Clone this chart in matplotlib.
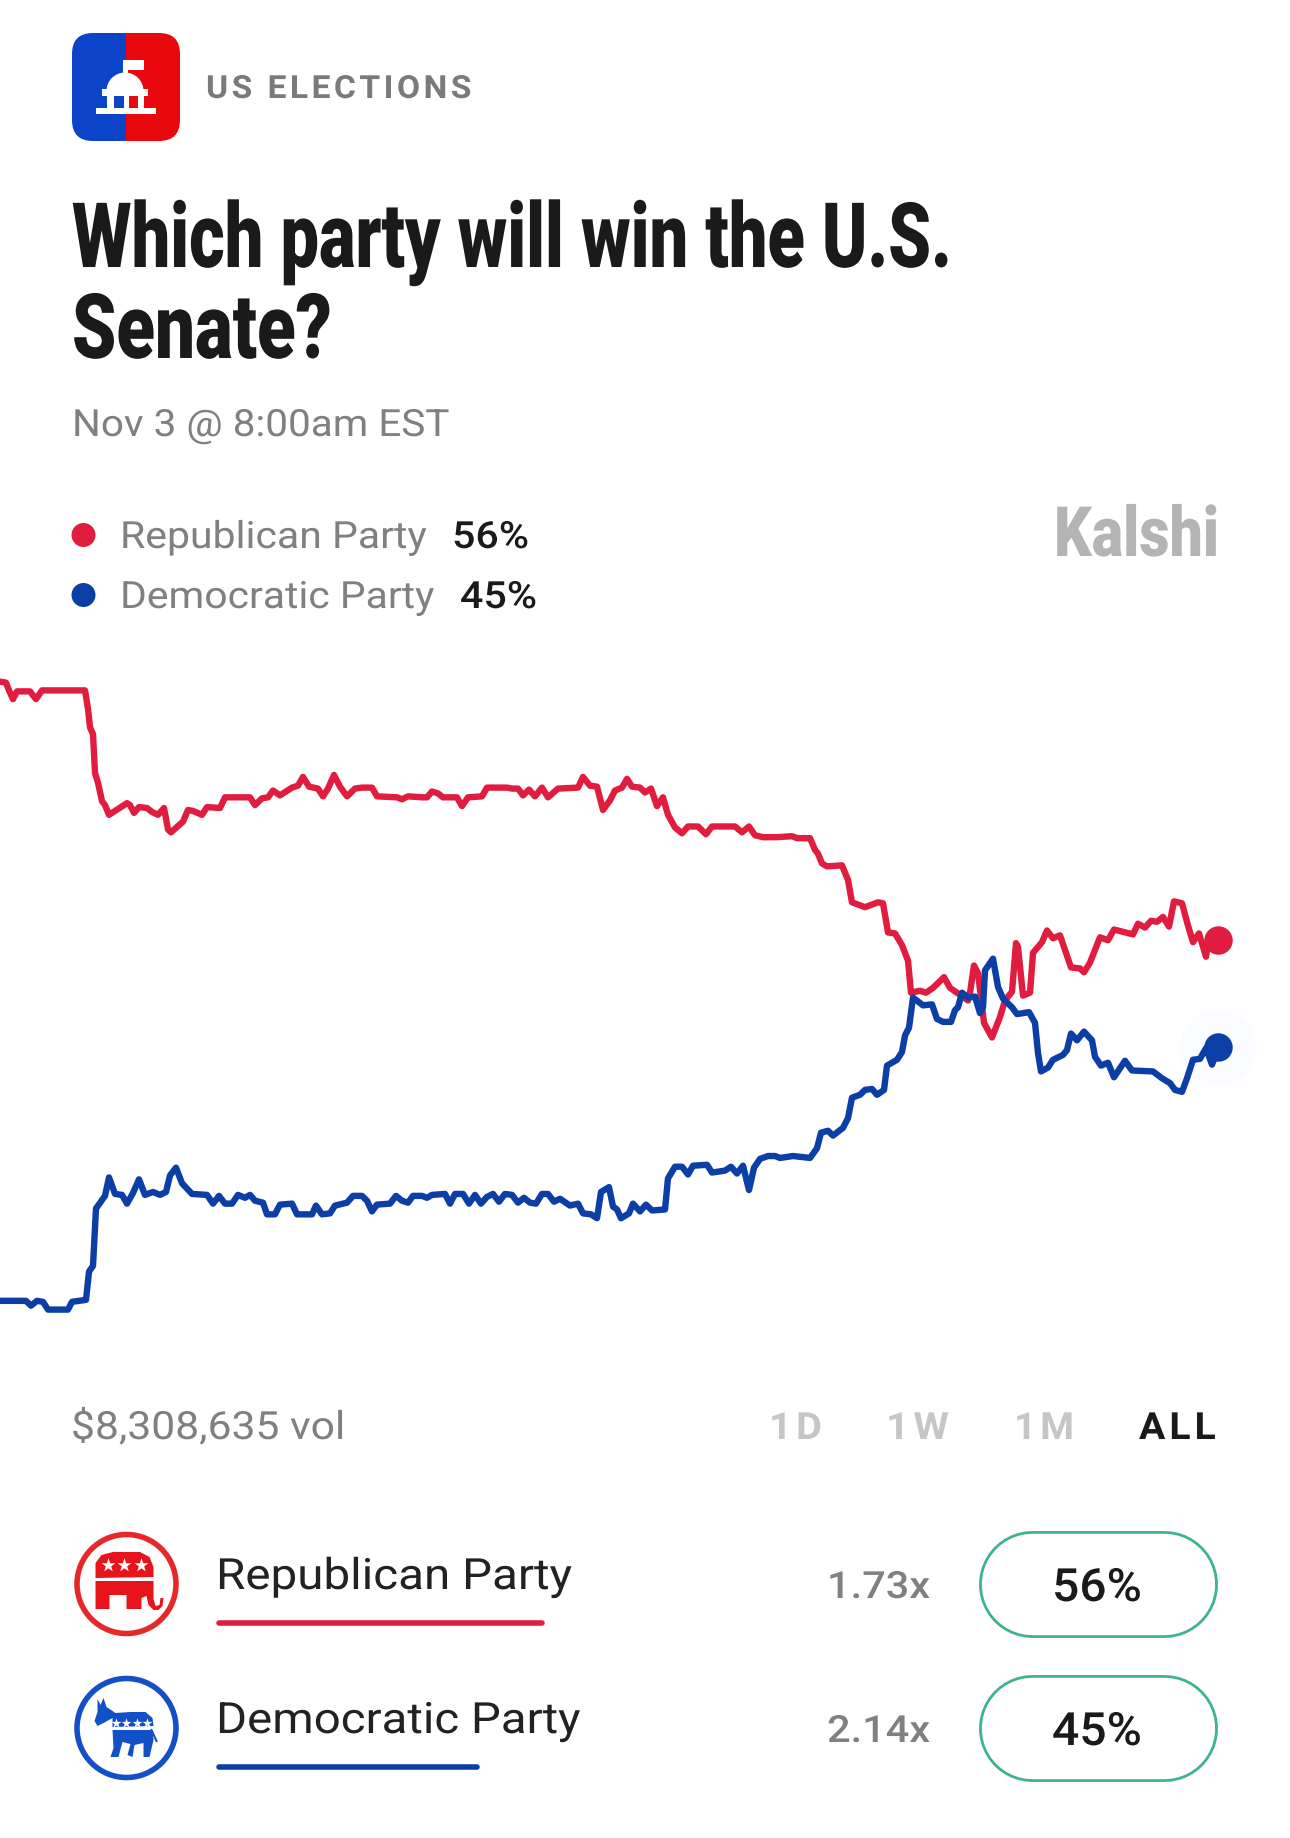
''' Senate control odds card: two price lines with header, legend and buy rows '''
import matplotlib.pyplot as plt
from matplotlib.patches import Circle, FancyBboxPatch, Polygon, Rectangle, Wedge
from matplotlib.patheffects import AbstractPathEffect
from matplotlib.transforms import Affine2D

# Series: time step along the chart and contract price in percent
rep_t = [0, 6, 9, 13, 17, 30, 36, 42, 85, 88, 90, 93, 95, 98, 102, 105, 109, 115, 127, 130, 134, 139, 147, 152, 158,
         164, 168, 171, 183, 188, 193, 202, 207, 220, 225, 250, 255, 262, 268, 273, 280, 292, 298, 303, 309, 318, 323,
         328, 334, 340, 347, 355, 362, 372, 377, 397, 402, 408, 423, 427, 432, 438, 443, 457, 462, 468, 482, 487, 507,
         512, 518, 523, 529, 535, 542, 548, 558, 578, 583, 590, 597, 603, 610, 615, 622, 627, 632, 640, 645, 651, 657,
         663, 668, 675, 682, 688, 698, 706, 712, 735, 742, 749, 755, 763, 777, 792, 797, 810, 815, 818, 822, 827, 842,
         848, 852, 865, 878, 883, 888, 895, 902, 908, 911, 920, 926, 933, 944, 950, 968, 970, 974, 978, 984, 992, 1000,
         1005, 1012, 1016, 1018, 1023, 1030, 1033, 1042, 1047, 1053, 1060, 1071, 1080, 1084, 1090, 1100, 1108, 1114,
         1133, 1138, 1145, 1151, 1157, 1163, 1169, 1174, 1182, 1188, 1193, 1199, 1206, 1208, 1218]
rep_pct = [82.6, 82.5, 81.7, 80.8, 81.6, 81.6, 80.8, 81.7, 81.7, 79.8, 77.9, 77.2, 73.2, 72.2, 70.3, 69.9, 68.9, 69.3,
           70.1, 69.9, 69.1, 69.7, 69.6, 69.2, 68.9, 69.6, 67.4, 67.1, 68.2, 69.4, 69.3, 68.9, 69.7, 69.6, 70.7, 70.7,
           69.9, 70.6, 70.7, 71.4, 70.9, 71.7, 71.9, 72.8, 71.8, 71.6, 70.8, 71.6, 73.0, 71.8, 70.8, 71.6, 71.7, 71.7,
           70.8, 70.7, 70.5, 70.8, 70.7, 70.7, 71.3, 71.1, 70.7, 70.7, 69.8, 70.7, 70.8, 71.7, 71.7, 71.6, 71.6, 70.9,
           71.5, 70.8, 71.7, 70.7, 71.6, 71.7, 72.8, 71.9, 71.8, 69.4, 70.4, 71.4, 71.7, 72.6, 71.8, 71.7, 71.2, 71.6,
           69.8, 70.7, 68.9, 67.6, 67.0, 67.7, 67.7, 66.9, 67.7, 67.7, 67.1, 67.7, 66.8, 66.6, 66.6, 66.7, 66.5, 66.5,
           65.3, 64.9, 63.9, 63.6, 63.7, 62.2, 59.9, 59.4, 59.9, 59.8, 56.8, 56.7, 55.5, 53.9, 50.6, 50.8, 50.6, 51.1,
           52.2, 51.1, 49.8, 50.6, 53.4, 52.6, 47.5, 46.0, 48.1, 49.8, 50.7, 55.7, 55.3, 50.3, 50.6, 54.7, 55.8, 57.0,
           56.2, 56.5, 53.2, 53.1, 52.7, 53.7, 56.3, 56.0, 57.1, 56.6, 57.7, 57.3, 58.0, 57.9, 58.4, 57.4, 60.0, 59.8,
           57.5, 55.8, 56.7, 54.3, 55.7, 56.0]
dem_t = [0, 26, 31, 37, 43, 48, 68, 72, 86, 89, 93, 96, 105, 109, 115, 122, 127, 133, 139, 145, 153, 160, 166, 170,
         176, 182, 192, 207, 213, 219, 225, 232, 238, 245, 250, 255, 263, 267, 275, 280, 292, 297, 312, 316, 322, 330,
         335, 347, 353, 362, 367, 372, 377, 390, 396, 402, 408, 413, 422, 427, 432, 445, 450, 455, 463, 469, 475, 481,
         487, 493, 499, 505, 512, 518, 524, 530, 536, 542, 548, 554, 560, 570, 578, 583, 591, 597, 601, 609, 613, 617,
         621, 629, 633, 640, 646, 652, 665, 668, 675, 682, 688, 693, 707, 712, 725, 731, 737, 743, 749, 754, 760, 768,
         775, 780, 793, 810, 817, 821, 828, 833, 843, 848, 852, 860, 865, 872, 877, 884, 887, 897, 902, 905, 909, 913,
         923, 932, 937, 943, 951, 955, 958, 962, 968, 975, 980, 983, 985, 993, 998, 1003, 1012, 1017, 1029, 1035, 1038,
         1041, 1048, 1053, 1063, 1067, 1071, 1077, 1084, 1092, 1095, 1101, 1108, 1114, 1125, 1132, 1153, 1162, 1170,
         1175, 1182, 1187, 1193, 1200, 1206, 1212, 1215, 1218]
dem_pct = [18.9, 18.9, 18.4, 18.9, 18.8, 18.0, 18.0, 18.8, 19.0, 21.9, 22.5, 28.4, 29.7, 31.6, 29.9, 29.8, 28.9, 30.0,
           31.4, 29.8, 30.1, 29.8, 30.1, 31.8, 32.6, 31.0, 29.9, 29.8, 28.9, 29.7, 28.9, 28.9, 29.8, 29.5, 29.8, 29.2,
           29.0, 27.8, 27.8, 28.8, 28.9, 27.8, 27.8, 28.7, 27.8, 27.9, 28.7, 29.0, 29.7, 29.7, 29.2, 28.1, 28.8, 28.9,
           29.7, 29.2, 29.0, 29.7, 29.7, 29.5, 29.8, 29.9, 28.9, 29.9, 29.9, 28.9, 29.8, 28.9, 29.6, 29.9, 29.1, 29.9,
           29.8, 29.0, 29.5, 29.0, 28.9, 29.9, 29.9, 29.1, 29.4, 28.7, 28.9, 27.9, 27.8, 27.4, 30.1, 30.6, 28.6, 28.3,
           27.4, 27.9, 28.9, 28.1, 28.8, 28.2, 28.3, 31.5, 32.7, 32.7, 31.9, 32.8, 32.9, 32.1, 32.3, 32.7, 32.0, 32.8,
           30.3, 32.6, 33.5, 33.8, 33.8, 33.6, 33.8, 33.6, 34.6, 36.2, 36.4, 35.9, 36.7, 37.7, 39.8, 40.1, 40.6, 40.7,
           40.1, 40.6, 43.1, 43.7, 44.5, 46.2, 47.0, 50.1, 49.3, 49.4, 47.9, 47.6, 47.6, 48.8, 49.1, 50.6, 50.1, 50.2,
           48.5, 49.1, 52.9, 54.1, 51.2, 50.0, 49.1, 48.4, 48.6, 47.5, 44.4, 42.5, 42.9, 43.7, 44.2, 44.7, 46.4, 45.7,
           46.6, 45.7, 44.0, 43.1, 43.4, 41.9, 43.6, 42.6, 42.5, 41.8, 41.3, 40.6, 40.4, 41.8, 43.7, 43.8, 44.9, 43.2,
           44.0, 45.0]

parties = ['Republican Party', 'Democratic Party']
now_pct = [56, 45]
payouts = ['1.73x', '2.14x']
periods = ['1D', '1W', '1M', 'ALL']
volume = '$8,308,635 vol'

RED = '#E11D3F'
BLUE = '#0B3FA6'
GRAY = '#808080'
INK = '#1A1A1A'
HAIR = '\u200a'
BODY = ['Roboto', 'DejaVu Sans']


class StretchX(AbstractPathEffect):
    ''' Scales glyph outlines horizontally around a fixed pixel column '''

    def __init__(self, factor, x0):
        super().__init__()
        self.factor = factor
        self.x0 = x0

    def draw_path(self, renderer, gc, tpath, affine, rgbFace=None):
        stretch = Affine2D().translate(-self.x0, 0).scale(self.factor, 1).translate(self.x0, 0)
        renderer.draw_path(gc, tpath, affine + stretch, rgbFace)


def spaced(s):
    return HAIR.join(s)


def label(x, base, s, width, size, weight='normal', color=INK):
    ''' Left aligned text on a baseline, stretched to the given pixel width '''
    t = page.text(x, base, s, family=BODY, size=size, weight=weight, color=color)
    natural = t.get_window_extent(fig.canvas.get_renderer()).width
    t.set_path_effects([StretchX(width / natural, x)])
    return t


fig = plt.figure(figsize=(12.9, 18.38), dpi=100, facecolor='white')

# Page layer in pixel units for the header, legend and buttons
page = fig.add_axes([0, 0, 1, 1])
page.set_xlim(0, 1290)
page.set_ylim(1838, 0)
page.axis('off')

# Price lines
chart = fig.add_axes([0, 1 - 1400 / 1838, 1, 800 / 1838])
chart.set_xlim(0, 1290)
chart.set_ylim(8.7, 91.0)
chart.axis('off')
chart.plot(rep_t, rep_pct, color=RED, lw=4.6, solid_joinstyle='round')
chart.plot(dem_t, dem_pct, color=BLUE, lw=4.6, solid_joinstyle='round')
chart.scatter(dem_t[-1], now_pct[1], s=3000, color='#FBFCFF', lw=0, zorder=1)
chart.scatter(rep_t[-1], now_pct[0], s=420, color=RED, lw=0, zorder=3)
chart.scatter(dem_t[-1], now_pct[1], s=420, color=BLUE, lw=0, zorder=3)

# Category badge: split rounded square with a capitol on top
badge = FancyBboxPatch((72, 33), 108, 108, boxstyle='round,pad=0,rounding_size=21', fc='none', ec='none')
page.add_patch(badge)
left = Rectangle((72, 33), 54, 108, fc='#0B44C9', ec='none')
right = Rectangle((126, 33), 54, 108, fc='#E8090F', ec='none')
for half in (left, right):
    page.add_patch(half)
    half.set_clip_path(badge)
for x, y, w, h in [(123, 60, 21, 10), (123, 60, 4.5, 22), (102, 89, 46, 7), (107, 96, 6.5, 12), (123.5, 96, 5.5, 12),
                   (138, 96, 5.5, 12), (96, 108, 60, 6)]:
    page.add_patch(Rectangle((x, y), w, h, fc='white', ec='none'))
page.add_patch(Wedge((125, 91), 18.5, 180, 360, fc='white', ec='none'))

label(206, 98, spaced('US ELECTIONS'), 266, 23, 'bold', '#7A7A7A')
label(72, 267, 'Which party will win the U.S.', 880, 65, 'black')
label(72, 358, 'Senate?', 260, 65, 'black')
label(72, 436, 'Nov 3 @ 8:00am EST', 377, 27, 'normal', GRAY)

# Legend with current prices
name_w = [307, 314]
value_x = [452, 460]
for i, (name, col, base) in enumerate(zip(parties, [RED, BLUE], [548, 608])):
    page.add_patch(Circle((83.5, base - 13), 12, fc=col, ec='none'))
    label(120, base, name, name_w[i], 27, 'normal', GRAY)
    label(value_x[i], base, f'{now_pct[i]}%', 77, 27, 'medium')
label(1054, 556, 'Kalshi', 165, 50, 'black', '#B4B4B4')

# Volume and period switches
label(71, 1439, volume, 274, 28, 'normal', GRAY)
period_x = [769, 886, 1014, 1139]
period_w = [53, 63, 60, 77]
for i, name in enumerate(periods):
    label(period_x[i], 1439, spaced(name), period_w[i], 27, 'bold', INK if name == 'ALL' else '#C6C6C6')

# Buy rows
row_cy = [1584, 1728]
row_col = ['#E5292B', '#1250C8']
rule_end = [542, 477]
row_w = [356, 364]
for i, cy in enumerate(row_cy):
    page.add_patch(Circle((126.5, cy), 49.5, fc='white', ec=row_col[i], lw=4))
    label(216, cy + 5, parties[i], row_w[i], 31, 'normal', '#222222')
    page.plot([219, rule_end[i]], [cy + 39, cy + 39], color=[RED, BLUE][i], lw=4, solid_capstyle='round')
    label(827, cy + 14, payouts[i], 103, 27, 'medium', GRAY)
    # Pill outline: a thick round-capped stroke with a white one over it
    page.plot([1032, 1164], [cy, cy], color='#3FB391', lw=77, solid_capstyle='round')
    page.plot([1032, 1164], [cy, cy], color='white', lw=73, solid_capstyle='round')
    label(1052, cy + 17, f'{now_pct[i]}%', 90, 33, 'medium')

# Elephant
cx, cy = 126.5, row_cy[0]
for shape in ([(-31, -6), (-31, -21), (-25, -29), (-13.5, -32), (13.5, -32), (23, -27), (27, -17), (27, -7)],
              [(-31, -3), (27, -3), (27, 15), (29, 22), (33, 21), (34, 14), (37, 14), (36, 22), (32, 26), (27, 26),
               (22, 21), (20, 12), (15, 14), (15, 25), (0, 25), (0, 11), (-17, 11), (-17, 25), (-31, 25)]):
    page.add_patch(Polygon([(cx + a, cy + b) for a, b in shape], fc='#E8141C', ec='none'))
page.scatter([cx - 19, cx - 2.5, cx + 14], [cy - 19] * 3, marker='*', s=110, color='white', lw=0, zorder=5)

# Donkey
cy = row_cy[1]
for shape in ([(-29, -29), (-26, -23), (-23, -30), (-20, -21), (-11, -15), (4, -16), (19, -16), (26, -10), (27, -2),
               (-14, -1), (-14, -10), (-23, -5), (-29, -2), (-32, -7), (-29, -16)],
              [(-14, 2), (26, 2), (27, 12), (23, 29), (17, 29), (17, 15), (8, 17), (6, 29), (1, 27), (4, 16), (-4, 14),
               (-8, 29), (-16, 29), (-13, 20)]):
    page.add_patch(Polygon([(cx + a, cy + b) for a, b in shape], fc='#1250C8', ec='none'))
page.plot([cx + 25, cx + 30], [cy + 2, cy + 13], color='#1250C8', lw=1.5)
page.scatter([cx - 11, cx - 0.5, cx + 10, cx + 20], [cy - 5.5] * 4, marker='*', s=55, color='white', lw=0, zorder=5)

plt.savefig('out.png', dpi=100)
